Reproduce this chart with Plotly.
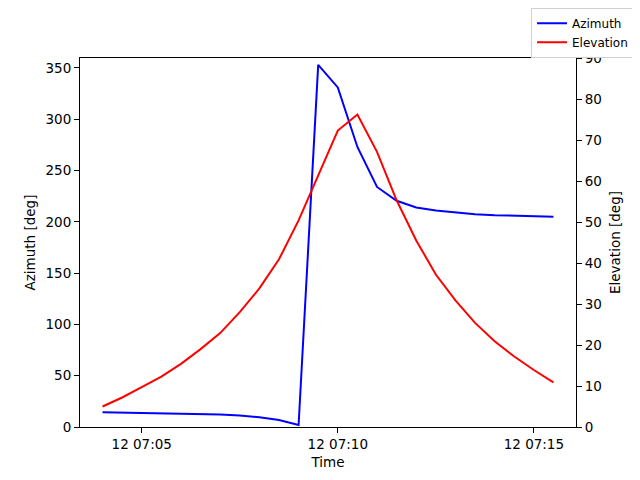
import pandas as pd
import plotly.graph_objects as go

times = pd.date_range("2023-01-12 07:04:00", periods=24, freq="30s")
azimuth = [14.5, 14.2, 13.9, 13.6, 13.2, 12.7, 12.1, 11.1, 9.6, 6.8, 2.0,
           353, 331, 273, 234, 220.5, 214, 211, 209, 207.5, 206.5, 206, 205.5, 205]
elevation = [5.0, 7.2, 9.7, 12.3, 15.4, 19.0, 22.9, 28.0, 33.8, 40.9, 50.4,
             61.5, 72.3, 76.2, 67.1, 55.3, 45.5, 37.2, 30.9, 25.4, 20.9, 17.2, 13.9, 10.9]
tick_times = ["2023-01-12 07:05:00", "2023-01-12 07:10:00", "2023-01-12 07:15:00"]

fig = go.Figure()
fig.add_trace(go.Scatter(x=times, y=azimuth, mode="lines", name="Azimuth",
                         line=dict(color="blue", width=2), yaxis="y"))
fig.add_trace(go.Scatter(x=times, y=elevation, mode="lines", name="Elevation",
                         line=dict(color="red", width=2), yaxis="y2"))

FS = 13.5
axis_common = dict(showgrid=False, zeroline=False, showline=True, linecolor="black",
                   linewidth=1, ticks="outside", ticklen=5, tickcolor="black",
                   automargin=False,
                   tickfont=dict(size=FS, color="black"))

fig.update_layout(
    width=640, height=480,
    margin=dict(l=72, r=72, t=50, b=61, autoexpand=False),
    paper_bgcolor="white", plot_bgcolor="white",
    font=dict(family="DejaVu Sans", size=FS, color="black"),
    xaxis=dict(type="date", range=["2023-01-12 07:03:25.5", "2023-01-12 07:16:04.5"],
               tickvals=tick_times, tickformat="%d %H:%M", mirror=True,
               title=dict(text="Time", standoff=6, font=dict(size=FS)), **axis_common),
    yaxis=dict(range=[0, 359.7], tickvals=list(range(0, 351, 50)),
               title=dict(text="Azimuth [deg]", standoff=6, font=dict(size=FS)), **axis_common),
    yaxis2=dict(range=[0, 90], tickvals=list(range(0, 91, 10)), overlaying="y", side="right",
                title=dict(text="Elevation [deg]", standoff=9, font=dict(size=FS)), **axis_common),
    legend=dict(x=1.117, y=1.1365, xanchor="right", yanchor="top",
                bordercolor="#d0d0d0", borderwidth=1, bgcolor="white",
                font=dict(size=12), tracegroupgap=0),
    showlegend=True,
)

fig.write_html("out.html")
